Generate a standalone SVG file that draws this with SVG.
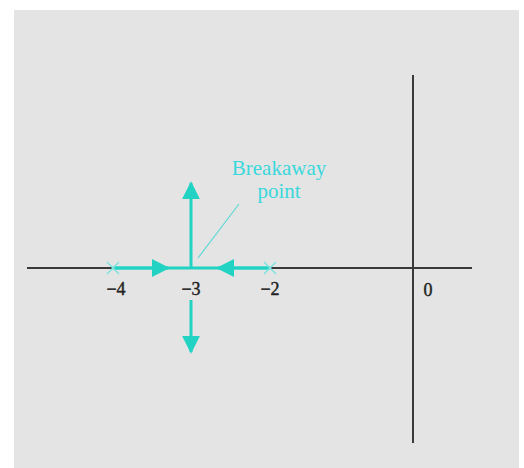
<svg xmlns="http://www.w3.org/2000/svg" width="524" height="468" viewBox="0 0 524 468">
<style>
.axis{stroke:#3a3a3a;stroke-width:2;fill:none}
.locus{stroke:#22d3c4;stroke-width:3;fill:none}
.lbl{font-family:"Liberation Serif",serif;font-size:18px;fill:#222;stroke:#222;stroke-width:0.4;text-anchor:middle}
.cy{font-family:"Liberation Serif",serif;font-size:21px;fill:#3ad8dc;text-anchor:middle}
.pole{stroke:#7fe3e0;stroke-width:1.5}
</style>
<defs>
<marker id="ah" viewBox="0 0 10 10" refX="9" refY="5" markerWidth="6" markerHeight="6" orient="auto" markerUnits="strokeWidth">
<path d="M0,0 L10,5 L0,10 z" fill="#22d3c4"/>
</marker>
</defs>
<rect x="0" y="0" width="524" height="468" fill="#ffffff"/>
<rect x="14" y="10" width="505" height="458" fill="#e4e4e4"/>
<g id="axes">
<line class="axis" x1="27" y1="268" x2="472" y2="268"/>
<line class="axis" x1="413" y1="75" x2="413" y2="443"/>
</g>
<g id="connectors">
<line class="locus" x1="113" y1="268" x2="270" y2="268"/>
<line class="locus" x1="113" y1="268" x2="168" y2="268" marker-end="url(#ah)"/>
<line class="locus" x1="270" y1="268" x2="218" y2="268" marker-end="url(#ah)"/>
<line class="locus" x1="191" y1="268" x2="191" y2="183" marker-end="url(#ah)"/>
<line class="locus" x1="191" y1="300" x2="191" y2="352" marker-end="url(#ah)"/>
<line x1="198" y1="258" x2="239" y2="204" stroke="#5fd9d6" stroke-width="1.2"/>
</g>
<g id="poles">
<path class="pole" d="M107,262 L119,274 M107,274 L119,262"/>
<path class="pole" d="M264,262 L276,274 M264,274 L276,262"/>
</g>
<g id="labels">
<text class="lbl" x="116" y="295">−4</text>
<text class="lbl" x="191" y="295">−3</text>
<text class="lbl" x="270" y="295">−2</text>
<text class="lbl" x="428" y="296">0</text>
</g>
<g id="breakaway">
<text class="cy" x="279" y="175">Breakaway</text>
<text class="cy" x="279" y="198">point</text>
</g>
</svg>
